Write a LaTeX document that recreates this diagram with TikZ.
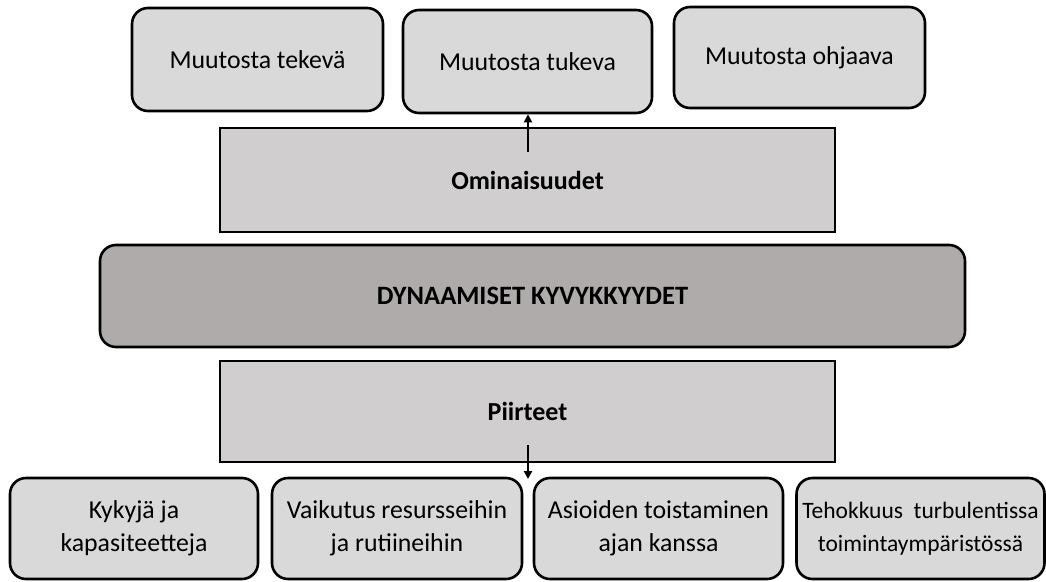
\documentclass[tikz,border=0pt]{standalone}
\usepackage{fontspec}
\setmainfont{Carlito}
\usetikzlibrary{arrows.meta}
\definecolor{boxfill}{HTML}{D9D9D9}
\definecolor{barfill}{HTML}{D0CECE}
\definecolor{corefill}{HTML}{AFABAB}
\begin{document}
\begin{tikzpicture}[x=1pt,y=-1pt,
  roundbox/.style={draw=black, line width=2.6pt, rounded corners=16pt, fill=boxfill,
    inner sep=0pt, align=center, font=\fontsize{25.8}{33}\selectfont},
  barbox/.style={draw=black, line width=2.6pt, fill=barfill, inner sep=0pt,
    font=\fontsize{26}{31}\selectfont\bfseries},
  corebox/.style={draw=black, line width=2.6pt, rounded corners=16pt, fill=corefill,
    inner sep=0pt, font=\fontsize{26.5}{32}\selectfont\bfseries},
  link/.style={line width=2pt, -{Triangle[length=8pt,width=8pt]}}]
\useasboundingbox (0,0) rectangle (1046,581);

% upper row: roles in change
\node[roundbox, minimum width=251pt, minimum height=103pt] (tekeva) at (257.5,59.5) {Muutosta tekevä};
\node[roundbox, minimum width=249pt, minimum height=103pt] (tukeva) at (527.5,61.5) {Muutosta tukeva};
\node[roundbox, minimum width=251pt, minimum height=101pt] (ohjaava) at (799.5,57.5) {Muutosta ohjaava};

% central layers
\node[barbox, minimum width=615pt, minimum height=104pt] (omin) at (527.5,180) {Ominaisuudet};
\node[corebox, minimum width=865pt, minimum height=102pt] (dyn) at (532.5,296) {DYNAAMISET KYVYKKYYDET};
\node[barbox, minimum width=615pt, minimum height=101pt] (piir) at (527.5,411.5) {Piirteet};

% lower row: features
\node[roundbox, minimum width=248pt, minimum height=101pt] (kyky) at (134,528.5) {Kykyjä ja\\kapasiteetteja};
\node[roundbox, minimum width=250pt, minimum height=101pt] (vaik) at (397,528.5) {Vaikutus resursseihin\\ja rutiineihin};
\node[roundbox, minimum width=249pt, minimum height=101pt] (asio) at (658.5,528.5) {Asioiden toistaminen\\ajan kanssa};
\node[roundbox, minimum width=248pt, minimum height=101pt, font=\fontsize{23.5}{33}\selectfont] (teho) at (920.5,528.5) {Tehokkuus\ \ turbulentissa\\toimintaympäristössä};

% connectors
\coordinate (ominStart) at (528,152);
\draw[link] (ominStart) -- (ominStart |- tukeva.south);
\coordinate (piirStart) at (528,445);
\coordinate (piirEnd) at (528,479);
\draw[link] (piirStart) -- (piirEnd);
\end{tikzpicture}
\end{document}
